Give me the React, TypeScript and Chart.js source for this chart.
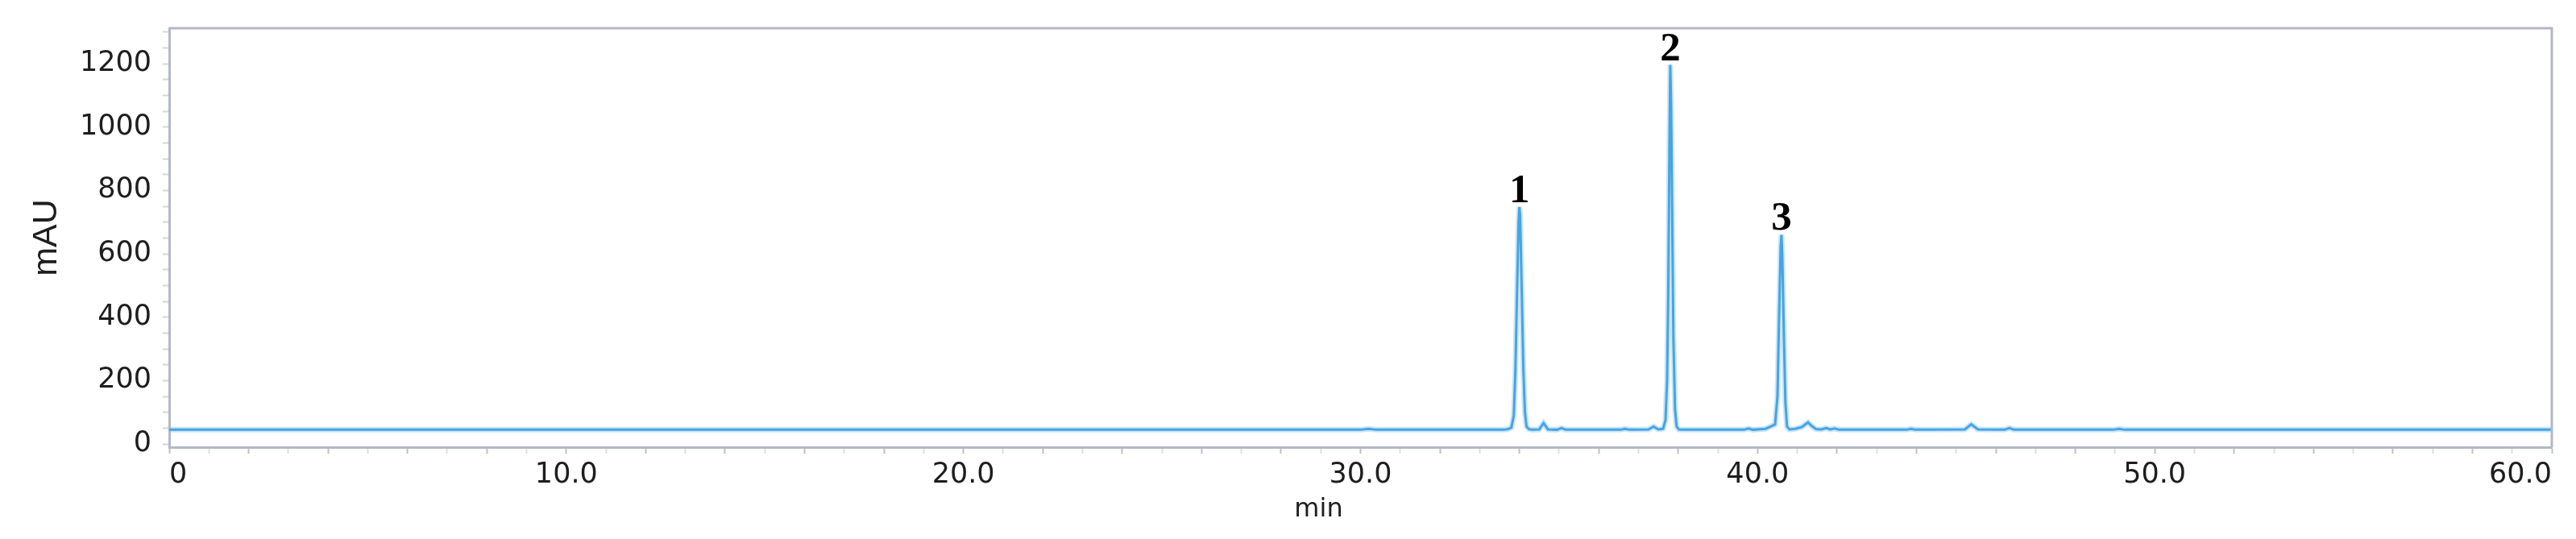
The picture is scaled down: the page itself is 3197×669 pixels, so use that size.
import React, { useEffect, useRef } from 'react';
import { Chart, registerables } from 'chart.js';

Chart.register(...registerables);

// Retention time (min)
const retentionTimes = [
  0, 5, 10, 15, 20, 25,
  30.0, 30.2, 30.4,
  33.0, 33.6, 33.72, 33.8, 33.86, 33.9, 33.94, 33.98, 34.0, 34.02, 34.06, 34.1, 34.14, 34.18, 34.24, 34.32,
  34.5, 34.61, 34.72, 34.95, 35.06, 35.17,
  36.55, 36.66, 36.77, 37.25, 37.38, 37.5,
  37.62, 37.68, 37.72, 37.75, 37.78, 37.8, 37.82, 37.85, 37.88, 37.92, 37.96, 38.02, 38.1,
  39.65, 39.77, 39.88, 40.2, 40.34, 40.44,
  40.5, 40.54, 40.58, 40.6, 40.62, 40.66, 40.7, 40.74, 40.8,
  40.95, 41.12, 41.27, 41.37, 41.47, 41.6, 41.73, 41.83, 41.94, 42.05,
  43.75, 43.86, 43.97, 45.22, 45.38, 45.55, 46.22, 46.34, 46.46,
  48.95, 49.1, 49.25, 55, 60,
];

// Absorbance (mAU)
const absorbance = [
  45, 45, 45, 45, 45, 45,
  45, 48, 45,
  45, 45, 47, 52, 90, 230, 470, 700, 748, 720, 480, 240, 100, 55, 47, 45,
  46, 66, 46, 45, 50, 45,
  45, 48, 45, 46, 55, 46,
  48, 75, 200, 480, 950, 1196, 1080, 700, 330, 110, 55, 46, 45,
  45, 49, 45, 48, 56, 62,
  150, 400, 620, 660, 600, 350, 130, 55, 46,
  48, 54, 68, 56, 47, 46, 50, 46, 49, 45,
  45, 48, 45, 46, 62, 46, 45, 50, 45,
  45, 48, 45, 45, 45,
];

const peakNames = ['1', '2', '3'];
const peakTimes = [34.0, 37.8, 40.6];
const peakHeights = [748, 1196, 660];

const yLabelValues = [0, 200, 400, 600, 800, 1000, 1200];
const xLabelValues = [0, 10, 20, 30, 40, 50, 60];
const xAxisTitle = 'min';
const yAxisTitle = 'mAU';

const AXIS_COLOR = '#b4b7c8';
const TEXT_COLOR = '#1e1e1e';

const framePlugin = {
  id: 'frameTopRight',
  afterDraw(chart: any) {
    const { ctx, chartArea } = chart;
    ctx.save();
    ctx.strokeStyle = AXIS_COLOR;
    ctx.lineWidth = 3;
    ctx.beginPath();
    ctx.moveTo(chartArea.left, chartArea.top);
    ctx.lineTo(chartArea.right, chartArea.top);
    ctx.lineTo(chartArea.right, chartArea.bottom);
    ctx.stroke();
    ctx.restore();
  },
};

const xTitlePlugin = {
  id: 'xTitle',
  afterDraw(chart: any) {
    const { ctx, chartArea } = chart;
    ctx.save();
    ctx.fillStyle = TEXT_COLOR;
    ctx.font = '32px "DejaVu Sans", Verdana, sans-serif';
    ctx.textAlign = 'center';
    ctx.textBaseline = 'middle';
    ctx.fillText(xAxisTitle, (chartArea.left + chartArea.right) / 2 - 52, 633);
    ctx.restore();
  },
};

const peakLabelPlugin = {
  id: 'peakLabels',
  afterDatasetsDraw(chart: any) {
    const { ctx, scales } = chart;
    ctx.save();
    ctx.fillStyle = '#000';
    ctx.font = 'bold 51px "Liberation Serif", "DejaVu Serif", serif';
    ctx.textAlign = 'center';
    ctx.textBaseline = 'alphabetic';
    peakNames.forEach((name, i) => {
      const x = scales.x.getPixelForValue(peakTimes[i]);
      const y = scales.y.getPixelForValue(peakHeights[i]);
      ctx.fillText(name, x, y - 6);
    });
    ctx.restore();
  },
};

export default function App() {
  const canvasRef = useRef<HTMLCanvasElement | null>(null);

  useEffect(() => {
    document.body.style.margin = '0';
    const canvas = canvasRef.current;
    if (!canvas) return;
    const points = retentionTimes.map((t, i) => ({ x: t, y: absorbance[i] }));

    const chart = new Chart(canvas, {
      type: 'line',
      data: {
        datasets: [
          {
            data: points,
            borderColor: 'rgba(125, 192, 240, 0.4)',
            borderWidth: 7,
            pointRadius: 0,
            tension: 0,
            fill: false,
          },
          {
            data: points,
            borderColor: '#2391da',
            borderWidth: 3,
            pointRadius: 0,
            tension: 0,
            fill: false,
          },
        ],
      },
      options: {
        responsive: false,
        animation: false,
        events: [],
        layout: { padding: { top: 34, right: 30, left: 0, bottom: 0 } },
        plugins: {
          legend: { display: false },
          tooltip: { enabled: false },
        },
        scales: {
          x: {
            type: 'linear',
            min: 0,
            max: 60,
            afterFit: (s: any) => {
              s.height = 114;
            },
            ticks: {
              stepSize: 1,
              autoSkip: false,
              maxRotation: 0,
              minRotation: 0,
              align: 'inner',
              padding: 6,
              color: TEXT_COLOR,
              font: { family: '"DejaVu Sans", Verdana, sans-serif', size: 35 },
              callback: (v: any) => {
                const n = Number(v);
                if (!xLabelValues.includes(n)) return '';
                return n === 0 ? '0' : n.toFixed(1);
              },
            },
            grid: {
              drawOnChartArea: false,
              drawTicks: true,
              tickLength: 8,
              tickColor: (c: any) =>
                c.tick && Math.round(c.tick.value) % 2 === 0 ? '#bcbfcd' : '#dcdee6',
              tickWidth: 2,
            },
            border: { display: true, color: AXIS_COLOR, width: 3 },
            title: { display: false },
          },
          y: {
            type: 'linear',
            min: -10,
            max: 1312,
            afterFit: (s: any) => {
              s.width = 210;
            },
            afterBuildTicks: (s: any) => {
              s.ticks = Array.from({ length: 27 }, (_, i) => ({ value: i * 50 }));
            },
            ticks: {
              autoSkip: false,
              padding: 14,
              color: TEXT_COLOR,
              font: { family: '"DejaVu Sans", Verdana, sans-serif', size: 35 },
              callback: (v: any) => {
                const n = Number(v);
                return yLabelValues.includes(n) ? String(n) : '';
              },
            },
            grid: {
              drawOnChartArea: false,
              drawTicks: true,
              tickLength: 8,
              tickColor: '#d2d4dd',
              tickWidth: 2,
            },
            border: { display: true, color: AXIS_COLOR, width: 3 },
            title: {
              display: true,
              text: yAxisTitle,
              color: TEXT_COLOR,
              font: { family: '"Liberation Sans", Arial, sans-serif', size: 43 },
              padding: { top: 32, bottom: 0 },
            },
          },
        },
      },
      plugins: [framePlugin, xTitlePlugin, peakLabelPlugin],
    });

    return () => {
      chart.destroy();
    };
  }, []);

  return (
    <div style={{ width: 3197, height: 669 }}>
      <canvas ref={canvasRef} width={3197} height={669} style={{ display: 'block' }} />
    </div>
  );
}
